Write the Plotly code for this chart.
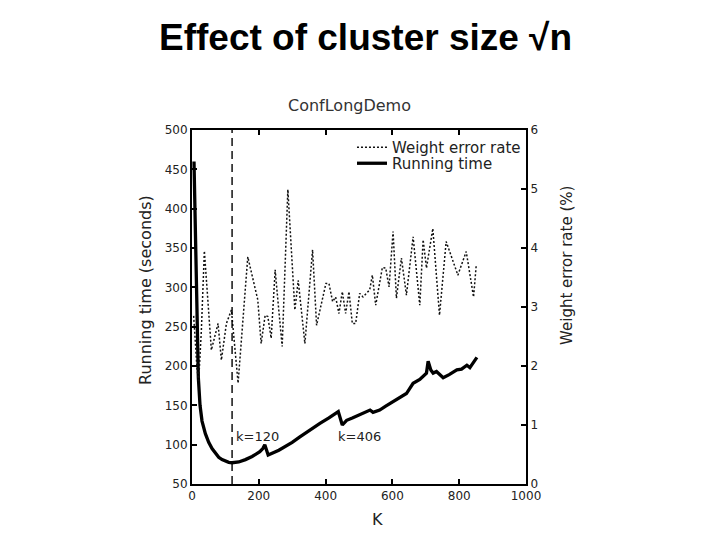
import plotly.graph_objects as go

# ---- data ----
k_run = [6, 10, 14, 19, 24, 30, 40, 50, 60, 70, 80, 90, 100, 110, 120, 140, 160, 180,
         203, 212, 218, 228, 260, 300, 323, 350, 383, 410, 438, 450, 463, 480, 503,
         520, 533, 542, 562, 580, 602, 620, 642, 662, 682, 702, 707, 715, 722, 732,
         752, 770, 793, 807, 823, 832, 853]
run_time = [460, 360, 270, 185, 150, 130, 114, 103, 95, 89, 84, 81, 79, 77.5, 77, 78, 81, 85,
            91, 95, 100, 87, 93, 103, 110, 118, 127, 134, 142, 125, 131, 134, 138,
            141, 144, 141, 144, 149, 155, 160, 165, 178, 183, 191, 206, 195, 191, 193,
            185, 189, 195, 196, 201, 198, 211]

k_err = [5, 10, 15, 20, 28, 37, 58, 78, 88, 103, 118, 138, 167, 197, 207, 219,
         227, 237, 249, 257, 270, 287, 308, 318, 338, 361, 373, 401, 410, 421, 430,
         440, 450, 460, 470, 480, 490, 502, 512, 532, 540, 550, 570, 580, 590, 602,
         612, 627, 642, 662, 682, 692, 702, 721, 741, 761, 796, 821, 843, 851]
err_rate = [2.85, 2.3, 1.95, 1.75, 2.6, 3.95, 2.27, 2.72, 2.10, 2.72, 2.95, 1.71, 3.85, 3.12, 2.38, 2.86,
            2.84, 2.47, 3.63, 3.12, 2.33, 4.99, 2.95, 3.45, 2.38, 3.97, 2.69, 3.40, 3.40, 3.09, 3.17,
            2.89, 3.26, 2.89, 3.26, 2.72, 2.72, 3.23, 3.17, 3.29, 3.54, 3.03, 3.67, 3.66, 3.34, 4.28,
            3.15, 3.83, 3.2, 4.19, 3.03, 4.14, 3.66, 4.33, 2.86, 4.11, 3.54, 3.94, 3.17, 3.71]

k_opt = 120
x_ticks = [0, 200, 400, 600, 800, 1000]
y_ticks = [50, 100, 150, 200, 250, 300, 350, 400, 450, 500]
y2_ticks = [0, 1, 2, 3, 4, 5, 6]
labels = [("k=120", 127, 110), ("k=406", 431, 110)]

FONT = "DejaVu Sans"
TXT = "#222222"

fig = go.Figure()
fig.add_trace(go.Scatter(
    x=k_err, y=err_rate, yaxis="y2", mode="lines", name="Weight error rate",
    line=dict(color="#111111", width=1.5, dash="2px,2px"), legend="legend"))
fig.add_trace(go.Scatter(
    x=k_run, y=run_time, mode="lines", name="Running time",
    line=dict(color="black", width=3.3), legend="legend2"))

fig.add_shape(type="line", xref="x", yref="paper", x0=k_opt, x1=k_opt, y0=0, y1=1,
              line=dict(color="black", width=1.4, dash="8px,5px"))

axis_common = dict(showgrid=False, zeroline=False, showline=True, linecolor="black",
                   linewidth=2, ticks="inside", ticklen=5, tickwidth=1.5, tickcolor="black",
                   tickfont=dict(family=FONT, size=12, color=TXT))

# page body has an 8px margin, so the figure is 712x532 and offset by 8px
fig.update_layout(
    width=712, height=532,
    margin=dict(l=184, r=194, t=122, b=56),
    paper_bgcolor="white", plot_bgcolor="white",
    showlegend=True,
    xaxis=dict(range=[0, 1000], tickvals=x_ticks, mirror="ticks", **axis_common),
    yaxis=dict(range=[50, 500], tickvals=y_ticks, **axis_common),
    yaxis2=dict(range=[0, 6], tickvals=y2_ticks, overlaying="y", side="right", **axis_common),
    legend=dict(x=0.479, y=0.997, xanchor="left", yanchor="top", bgcolor="rgba(0,0,0,0)",
                font=dict(family=FONT, size=15, color=TXT)),
    legend2=dict(x=0.479, y=0.952, xanchor="left", yanchor="top", bgcolor="rgba(0,0,0,0)",
                 font=dict(family=FONT, size=15, color=TXT)),
)

ann = [
    dict(text="<b>Effect of cluster size √n</b>", x=0.518, y=1.26, xref="paper", yref="paper",
         showarrow=False, xanchor="center", yanchor="middle",
         font=dict(family="Liberation Sans, Arial", size=37, color="black")),
    dict(text="ConfLongDemo", x=0.473, y=1.068, xref="paper", yref="paper",
         showarrow=False, xanchor="center", yanchor="middle",
         font=dict(family=FONT, size=16, color="#333333")),
    dict(text="Running time (seconds)", x=-0.1407, y=0.548, xref="paper", yref="paper",
         showarrow=False, textangle=-90, xanchor="center", yanchor="middle",
         font=dict(family=FONT, size=16, color=TXT)),
    dict(text="Weight error rate (%)", x=1.1228, y=0.616, xref="paper", yref="paper",
         showarrow=False, textangle=-90, xanchor="center", yanchor="middle",
         font=dict(family=FONT, size=15, color=TXT)),
    dict(text="K", x=0.554, y=-0.099, xref="paper", yref="paper",
         showarrow=False, xanchor="center", yanchor="middle",
         font=dict(family=FONT, size=16, color=TXT)),
]
for t, kx, vy in labels:
    ann.append(dict(text=t, x=kx, y=vy, xref="x", yref="y", showarrow=False,
                    xanchor="left", yanchor="middle",
                    font=dict(family=FONT, size=13, color=TXT)))
fig.update_layout(annotations=ann)

fig.write_html("out.html")
